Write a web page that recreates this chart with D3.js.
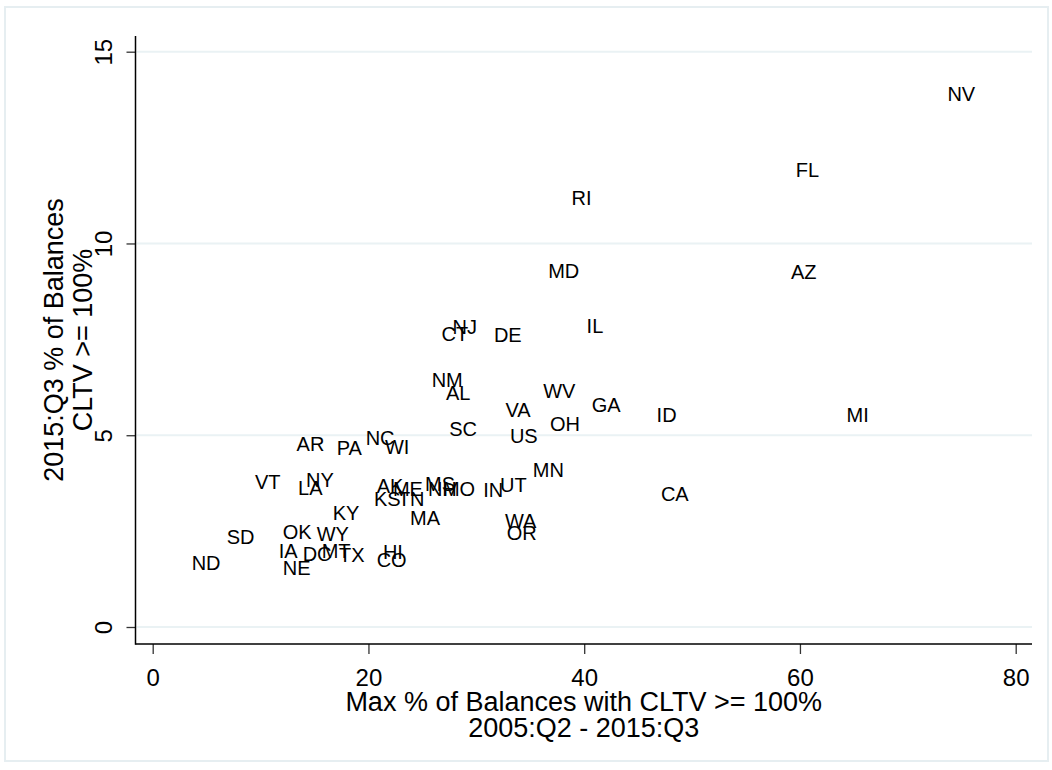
<!DOCTYPE html>
<html>
<head>
<meta charset="utf-8">
<script src="https://cdn.jsdelivr.net/npm/d3@7"></script>
<style>
  body { margin: 0; background: #fff; }
  svg { display: block; font-family: "Liberation Sans", Arial, sans-serif; }
</style>
</head>
<body>
<div id="chart"></div>
<script>
// State labels with max share (x) and current share (y) of balances with CLTV >= 100%
const states = ['NV', 'FL', 'RI', 'MD', 'AZ', 'IL', 'NJ', 'CT', 'DE', 'NM', 'AL', 'WV', 'GA',
    'VA', 'ID', 'MI', 'OH', 'SC', 'US', 'NC', 'AR', 'WI', 'PA', 'MN', 'VT', 'NY', 'LA',
    'AK', 'ME', 'MS', 'NH', 'MO', 'UT', 'IN', 'CA', 'KS', 'TN', 'KY', 'MA', 'WA', 'OR',
    'SD', 'OK', 'WY', 'IA', 'MT', 'DC', 'TX', 'HI', 'CO', 'ND', 'NE'];
const maxShare = [73.3, 59.25, 38.46, 36.29, 58.79, 39.85, 27.43, 26.41, 31.26, 25.49, 26.81, 35.83, 40.32,
    32.33, 46.34, 63.95, 36.45, 27.12, 32.74, 19.37, 12.97, 21.16, 16.68, 34.87, 9.11, 13.84, 13.10,
    20.39, 21.90, 24.87, 25.14, 26.53, 31.82, 30.27, 46.74, 20.14, 22.36, 16.31, 23.48, 32.28, 32.44,
    6.49, 11.68, 14.83, 11.31, 15.29, 13.53, 16.90, 20.97, 20.39, 3.24, 11.68];
const curShare = [13.91, 11.92, 11.18, 9.28, 9.26, 7.85, 7.82, 7.65, 7.61, 6.45, 6.11, 6.15, 5.80,
    5.65, 5.53, 5.53, 5.28, 5.15, 4.99, 4.94, 4.78, 4.70, 4.67, 4.09, 3.77, 3.83, 3.63,
    3.68, 3.61, 3.73, 3.60, 3.60, 3.69, 3.57, 3.48, 3.34, 3.34, 2.98, 2.84, 2.77, 2.44,
    2.35, 2.49, 2.43, 1.99, 1.98, 1.90, 1.88, 1.96, 1.75, 1.68, 1.54];
const xTicks = [0, 20, 40, 60, 80];
const yTicks = [0, 5, 10, 15];

const W = 1052, H = 770;
const data = states.map((s, i) => ({ state: s, x: maxShare[i], y: curShare[i] }));

const svg = d3.select('#chart').append('svg')
    .attr('width', W)
    .attr('height', H);

// outer frame
svg.append('rect')
    .attr('x', 5).attr('y', 7)
    .attr('width', 1043).attr('height', 754)
    .attr('fill', '#fff')
    .attr('stroke', '#e6eef1')
    .attr('stroke-width', 2);

const xScale = d3.scaleLinear().domain([0, 80]).range([152.7, 1015.7]);
const yScale = d3.scaleLinear().domain([0, 15]).range([627, 51.7]);
const plotLeft = 135.5, plotRight = 1032, plotTop = 36, plotBottom = 644;

// gridlines
svg.append('g')
    .selectAll('line')
    .data(yTicks)
    .join('line')
    .attr('x1', plotLeft + 1).attr('x2', plotRight)
    .attr('y1', d => yScale(d)).attr('y2', d => yScale(d))
    .attr('stroke', '#eaf2f4')
    .attr('stroke-width', 2);

// y axis
const yAxis = svg.append('g')
    .attr('transform', `translate(${plotLeft},0)`)
    .call(d3.axisLeft(yScale).tickValues(yTicks).tickSize(9).tickPadding(14).tickFormat(d3.format('d')));
yAxis.select('.domain').remove();
yAxis.selectAll('.tick line').attr('stroke', '#333').attr('stroke-width', 1.3);
yAxis.selectAll('.tick text')
    .attr('font-size', 24)
    .attr('fill', '#000')
    .attr('x', null).attr('dy', null)
    .attr('text-anchor', 'middle')
    .attr('transform', 'translate(-32,0) rotate(-90)')
    .attr('dominant-baseline', 'central');

// x axis
const xAxis = svg.append('g')
    .attr('transform', `translate(0,${plotBottom})`)
    .call(d3.axisBottom(xScale).tickValues(xTicks).tickSize(10).tickPadding(14).tickFormat(d3.format('d')));
xAxis.select('.domain').remove();
xAxis.selectAll('.tick line').attr('stroke', '#333').attr('stroke-width', 1.3);
xAxis.selectAll('.tick text')
    .attr('font-size', 24)
    .attr('fill', '#000')
    .attr('dy', null)
    .attr('y', 33)
    .attr('dominant-baseline', 'central');

// axis lines
svg.append('line')
    .attr('x1', plotLeft).attr('x2', plotLeft)
    .attr('y1', plotTop).attr('y2', plotBottom + 0.75)
    .attr('stroke', '#000').attr('stroke-width', 1.5);
svg.append('line')
    .attr('x1', plotLeft).attr('x2', plotRight)
    .attr('y1', plotBottom).attr('y2', plotBottom)
    .attr('stroke', '#000').attr('stroke-width', 1.5);

// state labels (no markers)
svg.append('g')
    .selectAll('text')
    .data(data)
    .join('text')
    .attr('x', d => xScale(d.x) + 4)
    .attr('y', d => yScale(d.y))
    .attr('dominant-baseline', 'central')
    .attr('font-size', 20)
    .attr('fill', '#000')
    .text(d => d.state);

// axis titles
const xMid = (plotLeft + plotRight) / 2;
const xTitle = svg.append('text')
    .attr('text-anchor', 'middle')
    .attr('font-size', 27)
    .attr('fill', '#000');
xTitle.append('tspan').attr('x', xMid).attr('y', 711).text('Max % of Balances with CLTV >= 100%');
xTitle.append('tspan').attr('x', xMid).attr('y', 737).text('2005:Q2 - 2015:Q3');

const yMid = (plotTop + plotBottom) / 2;
const yTitle = svg.append('text')
    .attr('transform', `translate(0,${yMid}) rotate(-90)`)
    .attr('text-anchor', 'middle')
    .attr('font-size', 27)
    .attr('fill', '#000');
yTitle.append('tspan').attr('x', 0).attr('y', 63).text('2015:Q3 % of Balances');
yTitle.append('tspan').attr('x', 0).attr('y', 92).text('CLTV >= 100%');
</script>
</body>
</html>
